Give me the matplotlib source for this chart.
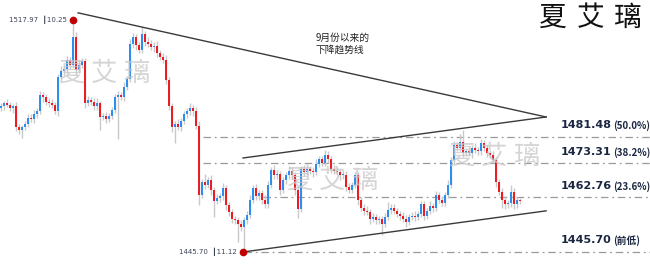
import numpy as np
import matplotlib
matplotlib.use("Agg")
import matplotlib.pyplot as plt

plt.rcParams['font.family'] = ['DejaVu Sans', 'Noto Sans CJK SC']

# ---------------- data ----------------
closes = [
    1491.0, 1492.0, 1491.5, 1490.5, 1491.0, 1484.5, 1483.8, 1484.5, 1485.5, 1487.5,
    1487.0, 1488.5, 1489.5, 1494.5, 1494.0, 1492.5, 1492.0, 1491.5, 1489.5, 1500.0,
    1502.0, 1502.5, 1505.5, 1504.0, 1512.6, 1502.3, 1504.0, 1505.0, 1492.0, 1493.0,
    1492.5, 1491.0, 1492.0, 1487.7, 1488.0, 1487.0, 1488.0, 1490.0, 1494.0, 1494.5,
    1494.0, 1497.0, 1499.5, 1510.5, 1512.5, 1510.0, 1508.5, 1513.5, 1511.0, 1510.5,
    1509.5, 1509.8, 1507.5, 1506.5, 1505.5, 1499.2, 1491.0, 1484.5, 1485.5, 1484.5,
    1486.5, 1488.5, 1489.5, 1490.5, 1489.5, 1485.0, 1463.4, 1467.5, 1466.5, 1468.0,
    1465.0, 1461.5, 1462.5, 1463.0, 1465.6, 1460.3, 1458.0, 1456.0, 1455.5, 1454.5,
    1453.5, 1455.5, 1457.2, 1462.0, 1465.5, 1463.0, 1464.0, 1462.0, 1460.5, 1466.5,
    1471.2, 1469.5, 1470.0, 1465.0, 1468.0, 1469.5, 1471.0, 1469.5, 1465.0, 1459.0,
    1471.5, 1470.5, 1471.5, 1471.0, 1470.5, 1473.0, 1474.5, 1473.5, 1476.0, 1474.5,
    1471.5, 1471.0, 1470.5, 1469.5, 1469.8, 1466.0, 1465.0, 1466.5, 1469.5, 1461.9,
    1459.5, 1458.5, 1458.2, 1456.0, 1456.5, 1455.5, 1456.0, 1454.5, 1456.5, 1458.8,
    1459.5, 1458.5, 1457.5, 1457.0, 1456.0, 1455.0, 1456.5, 1457.0, 1456.5, 1457.5,
    1460.5, 1457.0, 1458.5, 1460.0, 1459.5, 1463.4, 1462.0, 1461.0, 1463.5, 1466.5,
    1474.3, 1479.0, 1478.0, 1480.0, 1476.5, 1477.0, 1476.5, 1478.0, 1477.5, 1477.0,
    1479.5, 1478.0, 1476.5, 1475.9, 1474.3, 1467.4, 1464.5, 1461.9, 1460.5, 1460.8,
    1464.5, 1460.5, 1461.8, 1461.5,
]
first_open = 1490.5

# wick length above / below the body
upper_wick = [
    1.0, 0.8, 1.2, 1.0, 0.8, 1.5, 1.0, 0.8, 1.0, 1.2,
    1.0, 1.5, 1.0, 1.2, 1.0, 0.8, 1.0, 1.2, 0.8, 1.0,
    1.5, 1.0, 1.2, 1.0, 5.4, 1.5, 1.5, 1.0, 1.0, 1.2,
    0.8, 1.0, 1.5, 0.8, 1.0, 1.2, 1.0, 0.8, 1.0, 1.2,
    1.0, 1.5, 1.0, 1.5, 1.2, 1.0, 1.0, 2.2, 1.0, 1.5,
    1.0, 1.2, 1.5, 1.0, 1.0, 1.5, 1.0, 1.2, 1.0, 1.5,
    1.0, 1.2, 1.0, 1.5, 1.0, 1.2, 1.5, 1.0, 2.5, 1.0,
    1.5, 1.0, 1.2, 1.0, 1.5, 1.0, 0.8, 1.2, 1.0, 1.0,
    1.0, 1.0, 1.2, 1.5, 1.0, 1.2, 1.0, 1.0, 1.5, 1.2,
    1.0, 1.5, 1.2, 1.0, 1.0, 1.2, 1.5, 1.0, 1.0, 1.2,
    1.0, 1.2, 1.5, 1.0, 1.0, 1.5, 1.2, 1.0, 1.5, 1.0,
    1.0, 1.2, 1.0, 1.0, 1.5, 1.0, 1.2, 1.0, 1.0, 1.2,
    1.0, 1.0, 1.5, 1.0, 1.2, 1.0, 1.0, 1.0, 1.2, 2.5,
    1.0, 1.2, 1.0, 1.0, 1.0, 1.2, 1.0, 1.0, 1.5, 1.0,
    1.2, 1.0, 1.0, 1.5, 1.0, 1.2, 1.0, 1.0, 1.0, 1.5,
    1.0, 1.2, 1.0, 2.5, 3.5, 1.0, 1.2, 1.0, 1.5, 1.0,
    1.2, 1.0, 1.0, 1.0, 1.2, 1.0, 1.0, 1.0, 1.2, 1.0,
    2.0, 1.0, 1.0, 0.8,
]
lower_wick = [
    1.0, 1.2, 0.8, 1.0, 1.5, 1.2, 1.5, 2.5, 1.0, 0.8,
    1.0, 1.2, 1.0, 1.0, 1.5, 1.0, 1.2, 1.0, 1.0, 1.5,
    1.0, 1.2, 1.0, 1.5, 1.0, 1.5, 1.0, 1.2, 1.5, 1.0,
    1.2, 1.0, 1.0, 4.0, 1.0, 1.2, 1.0, 1.0, 1.2, 13.0,
    1.0, 1.2, 1.0, 1.0, 1.2, 1.5, 1.0, 1.0, 1.2, 1.0,
    1.0, 1.5, 1.0, 1.2, 1.0, 1.2, 1.0, 1.5, 5.0, 1.0,
    1.2, 1.0, 1.0, 1.2, 1.5, 1.0, 3.0, 1.0, 1.2, 1.0,
    1.5, 5.0, 1.0, 1.2, 1.0, 1.5, 1.0, 1.2, 1.0, 5.7,
    1.2, 7.8, 1.0, 1.0, 1.2, 1.0, 1.0, 1.5, 1.0, 1.0,
    1.0, 1.2, 1.0, 1.5, 1.0, 1.0, 1.2, 1.0, 1.5, 2.7,
    1.0, 1.2, 1.0, 1.0, 1.5, 1.0, 1.0, 1.2, 1.0, 1.0,
    1.2, 1.0, 1.0, 1.5, 1.0, 1.2, 1.0, 1.0, 1.0, 1.5,
    1.0, 1.2, 1.0, 1.5, 1.0, 1.0, 1.2, 3.5, 1.0, 1.0,
    1.2, 1.0, 1.0, 1.5, 1.0, 1.5, 1.0, 1.0, 1.2, 1.0,
    1.0, 1.2, 1.0, 1.0, 1.5, 1.0, 1.2, 1.0, 1.0, 1.0,
    1.0, 1.2, 1.0, 1.0, 1.2, 1.0, 1.0, 1.5, 1.0, 1.2,
    1.0, 1.0, 1.2, 1.0, 1.0, 1.5, 1.2, 2.5, 1.5, 1.0,
    1.0, 1.5, 1.0, 0.8,
]

high_idx, high_price, high_date = 24, 1517.97, "10.25"
low_idx, low_price, low_date = 81, 1445.70, "11.12"

fib_levels = [1481.48, 1473.31, 1462.76, 1445.70]
fib_tags = ["(50.0%)", "(38.2%)", "(23.6%)", "(前低)"]
fib_start = [67.3, 67.3, 87.3, 81.0]

# trend lines (index, price)
down_trend = [(25.7, 1520.1), (181.7, 1487.7)]
chan_top = [(80.7, 1474.95), (181.7, 1487.7)]
chan_bot = [(80.7, 1445.7), (181.7, 1458.5)]

# ---------------- figure ----------------
fig = plt.figure(figsize=(6.5, 2.68), dpi=100)
ax = fig.add_axes([0, 0, 1, 1])
ax.set_xlim(-1 / 3, 649 / 3)
ax.set_ylim(1440.72, 1524.10)
ax.axis('off')

c = np.array(closes)
o = np.concatenate(([first_open], c[:-1]))
top = np.maximum(o, c)
bot = np.minimum(o, c)
hi = top + np.array(upper_wick)
lo = bot - np.array(lower_wick)
hi[high_idx] = high_price
lo[low_idx] = low_price
x = np.arange(len(c))
up = c >= o
cols = np.where(up, '#2e8ef0', '#ec1c24')

ax.vlines(x, lo, hi, color='#c9c9c9', lw=1.0, zorder=2)
h = np.maximum(top - bot, 0.35)
ax.bar(x, h, bottom=bot, width=0.75, color=cols, lw=0, zorder=3)

cjk = ['Noto Sans CJK SC', 'DejaVu Sans']

# fib levels
for lv, st, tag in zip(fib_levels, fib_start, fib_tags):
    ax.plot([st, 217], [lv, lv], color='#9a9a9a', lw=0.9,
            dashes=(6, 3, 1.5, 3), zorder=1)
    ax.text(186.7, lv + 3.6, f"{lv:.2f}", fontsize=8, fontweight='bold',
            color='#1b2742', va='center', ha='left')
    ax.text(204.0, lv + 3.4, tag, fontsize=7, fontweight='bold',
            color='#1b2742', va='center', ha='left', family=cjk)

for ln in (down_trend, chan_top, chan_bot):
    ax.plot([ln[0][0], ln[1][0]], [ln[0][1], ln[1][1]], color='#3a3a3a', lw=1.0, zorder=4)

# high / low markers
ax.plot(high_idx - 0.1, high_price, 'o', color='#c00000', ms=4.5, zorder=5)
ax.plot(low_idx - 0.4, low_price, 'o', color='#c00000', ms=4.5, zorder=5)
ax.text(high_idx - 2.0, high_price, f"{high_price:.2f}  ┃{high_date}", fontsize=5,
        color='#3b4456', ha='right', va='center')
ax.text(low_idx - 2.3, low_price, f"{low_price:.2f}  ┃{low_date}", fontsize=5,
        color='#3b4456', ha='right', va='center')

ax.text(105, 1510.5, "9月份以来的\n下降趋势线", fontsize=7, color='#222222',
        family=cjk, linespacing=1.15, ha='left', va='center')

# watermarks
for k, ch in enumerate("夏艾璃"):
    ax.text(184 + k * 12.4, 1518.6, ch, fontsize=20, color='#111111',
            fontweight='light', family=cjk, ha='center', va='center', zorder=6)
for (wx, wy) in [(23.5, 1501.4), (99.5, 1468.1), (153.5, 1475.5)]:
    for k, ch in enumerate("夏艾璃"):
        ax.text(wx + k * 10.8, wy, ch, fontsize=19, color='#c8c8c8', alpha=0.75,
                family=cjk, ha='center', va='center', zorder=6)

fig.savefig("out.png", dpi=100)
